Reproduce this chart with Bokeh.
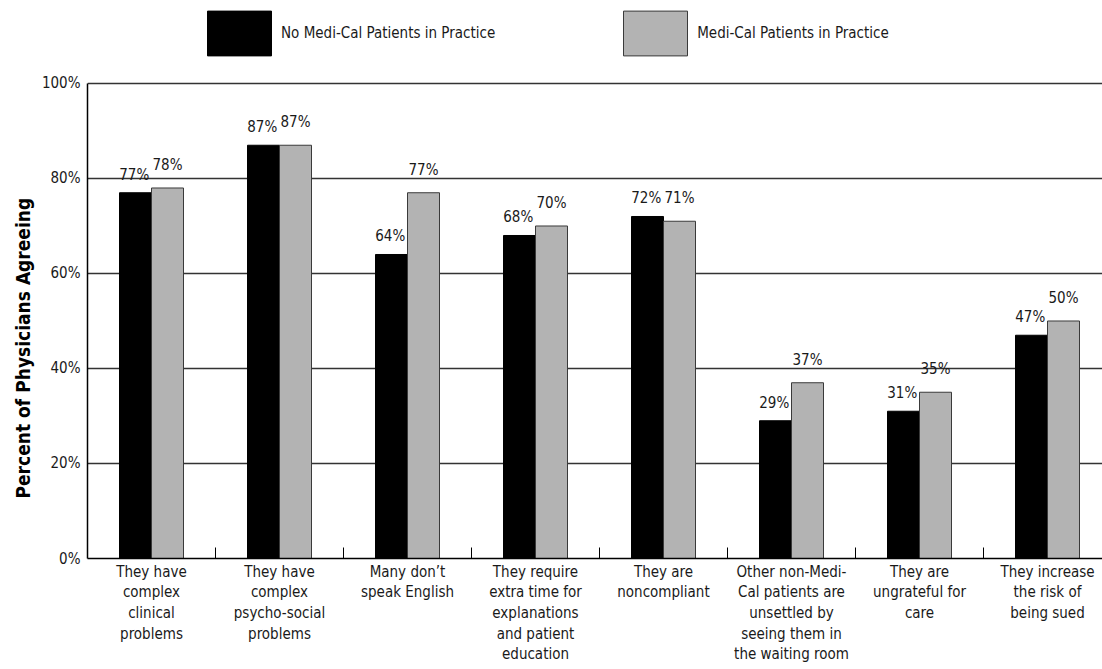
from bokeh.plotting import figure
from bokeh.models import (ColumnDataSource, Range1d, FixedTicker, Legend, LegendItem, Title)
from bokeh.transform import dodge
from bokeh.core.properties import value
from bokeh.embed import file_html
from bokeh.resources import INLINE

categories = [
    "They have\ncomplex\nclinical\nproblems",
    "They have\ncomplex\npsycho-social\nproblems",
    "Many don\u2019t\nspeak English",
    "They require\nextra time for\nexplanations\nand patient\neducation",
    "They are\nnoncompliant",
    "Other non-Medi-\nCal patients are\nunsettled by\nseeing them in\nthe waiting room",
    "They are\nungrateful for\ncare",
    "They increase\nthe risk of\nbeing sued",
]
no_medical = [77, 87, 64, 68, 72, 29, 31, 47]
medical = [78, 87, 77, 70, 71, 37, 35, 50]
series_names = ["No Medi-Cal Patients in Practice", "Medi-Cal Patients in Practice"]
y_ticks = [0, 20, 40, 60, 80, 100]
y_tick_labels = ["0%", "20%", "40%", "60%", "80%", "100%"]

FONT = "DejaVu Sans Condensed"
TXT = "#1a1a1a"

centers = [i + 0.5 for i in range(len(categories))]
src = ColumnDataSource(dict(
    xc=centers,
    a=no_medical,
    b=medical,
    la=[f"{v}%" for v in no_medical],
    lb=[f"{v}%" for v in medical],
))

W, H = 1102, 669
p = figure(width=W, height=H, output_backend="svg", toolbar_location=None,
           x_range=Range1d(0, 1015 / 128), y_range=Range1d(0, 116.42),
           min_border_left=87, min_border_right=0, min_border_top=5,
           min_border_bottom=111)
p.title.visible = False
p.outline_line_color = None
p.background_fill_color = "white"

# grid
p.xgrid.visible = False
p.ygrid.ticker = FixedTicker(ticks=[20, 40, 60, 80, 100])
p.ygrid.grid_line_color = "#333333"
p.ygrid.grid_line_width = 1.3

# bars
ra = p.vbar(x=dodge("xc", -0.125, range=p.x_range), top="a", width=0.25, source=src,
            fill_color="black", line_color="black", line_width=1)
rb = p.vbar(x=dodge("xc", 0.125, range=p.x_range), top="b", width=0.25, source=src,
            fill_color="#b3b3b3", line_color="#3a3a3a", line_width=1)

# value labels
p.text(x=dodge("xc", -0.135, range=p.x_range), y="a", text="la", source=src,
       text_align="center", text_baseline="alphabetic", y_offset=-18,
       text_font=value(FONT), text_font_size="15px", text_color=TXT)
p.text(x=dodge("xc", 0.125, range=p.x_range), y="b", text="lb", source=src,
       text_align="center", text_baseline="alphabetic", y_offset=-23,
       text_font=value(FONT), text_font_size="15px", text_color=TXT)

# x axis
xa = p.xaxis[0]
xa.ticker = FixedTicker(ticks=centers, minor_ticks=list(range(1, len(categories))))
xa.major_label_overrides = {c: lab for c, lab in zip(centers, categories)}
xa.major_tick_in = 0
xa.major_tick_out = 0
xa.minor_tick_in = 11
xa.minor_tick_out = 0
xa.minor_tick_line_color = "black"
xa.axis_line_color = "black"
xa.axis_line_width = 1.5
xa.major_label_text_font = FONT
xa.major_label_text_font_size = "15px"
xa.major_label_text_color = TXT
xa.major_label_text_line_height = 1.15
xa.major_label_standoff = 4

# y axis
ya = p.yaxis[0]
ya.ticker = FixedTicker(ticks=y_ticks)
ya.bounds = (0, 100)
ya.major_label_overrides = {t: l for t, l in zip(y_ticks, y_tick_labels)}
ya.major_tick_in = 0
ya.major_tick_out = 0
ya.minor_tick_line_color = None
ya.axis_line_color = "black"
ya.axis_line_width = 1.5
ya.major_label_text_font = FONT
ya.major_label_text_font_size = "15px"
ya.major_label_text_color = TXT
ya.major_label_standoff = 7

title = Title(text="Percent of Physicians Agreeing", align="left",
              text_font=FONT, text_font_size="19px", text_font_style="bold",
              text_color="black", offset=60, standoff=10)
p.add_layout(title, "left")

legend = Legend(items=[LegendItem(label=series_names[0], renderers=[ra]),
                       LegendItem(label=series_names[1], renderers=[rb])],
                orientation="horizontal", location=(112, 497),
                glyph_width=80, glyph_height=56, label_standoff=2, spacing=120,
                padding=0, margin=0, border_line_color=None,
                background_fill_alpha=0,
                label_text_font=FONT, label_text_font_size="15px",
                label_text_color=TXT)
p.add_layout(legend, "center")

open("out.html", "w").write(file_html(p, INLINE))
